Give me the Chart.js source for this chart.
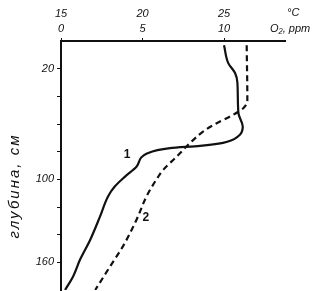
<!DOCTYPE html>
<html>
<head>
<meta charset="utf-8">
<script src="https://cdn.jsdelivr.net/npm/chart.js@4/dist/chart.umd.min.js"></script>
<style>
  html, body { margin: 0; padding: 0; background: #fff; }
  #wrap { width: 331px; height: 291px; }
</style>
</head>
<body>
<div id="wrap"><canvas id="chart"></canvas></div>
<script>
// curve 1 - temperature, °C
const tempDepth = [3, 16, 23, 30, 52, 62, 69, 73.6, 75.8, 77.4, 81.2, 90.7, 98, 105, 112, 127, 144, 158, 170, 180];
const tempValues = [25.0, 25.26, 25.67, 25.82, 25.88, 26.15, 25.86, 24.94, 23.53, 21.69, 20.3, 19.64, 18.93, 18.31, 17.9, 17.39, 16.78, 16.17, 15.75, 15.25];

// curve 2 - dissolved oxygen, ppm
const o2Depth = [3, 43, 48.6, 54.6, 59.4, 65.4, 73.8, 83.5, 93, 98, 112, 129, 148, 163, 180];
const o2Values = [11.39, 11.43, 11.18, 10.37, 9.55, 8.73, 7.91, 7.10, 6.28, 5.97, 5.26, 4.64, 3.82, 3.01, 2.1];

const tempTicks = [15, 20, 25];
const o2Ticks = [0, 5, 10];
const depthTicks = [20, 40, 60, 80, 100, 120, 140, 160];
const depthLabels = [20, 100, 160];

const curveLabels = [
  { text: '1', axis: 'xT', x: 19.05, y: 82 },
  { text: '2', axis: 'x', x: 5.2, y: 128 }
];

const font = { family: 'Liberation Sans', style: 'italic', size: 11 };

const toPoints = (xs, ys) => xs.map((v, i) => ({ x: v, y: ys[i] }));

const extras = {
  id: 'extras',
  afterDraw(chart) {
    const { ctx, chartArea, scales } = chart;
    ctx.save();
    ctx.fillStyle = '#111';
    ctx.font = 'italic 11px "Liberation Sans"';
    ctx.textBaseline = 'middle';
    ctx.textAlign = 'left';
    ctx.fillText('°C', chartArea.right + 2, 13);
    ctx.fillText('O₂, ppm', chartArea.right - 15, 29);

    ctx.font = 'bold 12px "Liberation Sans"';
    ctx.textAlign = 'center';
    curveLabels.forEach(l => {
      ctx.fillText(l.text, scales[l.axis].getPixelForValue(l.x), scales.y.getPixelForValue(l.y));
    });

    ctx.translate(15, 186);
    ctx.rotate(-Math.PI / 2);
    ctx.font = 'italic 15px "Liberation Sans"';
    ctx.letterSpacing = '2px';
    ctx.fillText('глубина, см', 0, 0);
    ctx.restore();
  }
};

new Chart(document.getElementById('chart').getContext('2d'), {
  type: 'line',
  data: {
    datasets: [
      {
        label: '1',
        data: toPoints(tempValues, tempDepth),
        xAxisID: 'xT',
        borderColor: '#111',
        borderWidth: 2.2,
        pointRadius: 0,
        cubicInterpolationMode: 'monotone',
        fill: false
      },
      {
        label: '2',
        data: toPoints(o2Values, o2Depth),
        xAxisID: 'x',
        borderColor: '#111',
        borderWidth: 2.2,
        borderDash: [6, 4],
        pointRadius: 0,
        cubicInterpolationMode: 'monotone',
        fill: false
      }
    ]
  },
  options: {
    responsive: true,
    maintainAspectRatio: false,
    animation: false,
    indexAxis: 'y',
    layout: { padding: { left: 0, right: 46, top: 0, bottom: 1 } },
    plugins: { legend: { display: false }, tooltip: { enabled: false } },
    scales: {
      x: {
        type: 'linear',
        position: 'top',
        min: 0,
        max: 13.74,
        afterBuildTicks: s => { s.ticks = o2Ticks.map(v => ({ value: v })); },
        afterFit: s => { s.height = 20; },
        ticks: { color: '#111', font, padding: 2, maxRotation: 0 },
        grid: { drawOnChartArea: false, color: '#111', tickLength: 3 },
        border: { color: '#111', width: 2 }
      },
      xT: {
        type: 'linear',
        position: 'top',
        min: 15,
        max: 28.74,
        afterBuildTicks: s => { s.ticks = tempTicks.map(v => ({ value: v })); },
        afterFit: s => { s.height = 21; },
        ticks: { color: '#111', font, padding: -8, maxRotation: 0 },
        grid: { display: false },
        border: { display: false }
      },
      y: {
        type: 'linear',
        reverse: true,
        min: 0,
        max: 180,
        afterBuildTicks: s => { s.ticks = depthTicks.map(v => ({ value: v })); },
        afterFit: s => { s.width = 61; s.paddingTop = 0; s.paddingBottom = 0; },
        ticks: {
          color: '#111',
          font,
          padding: 3,
          callback: v => depthLabels.includes(v) ? String(v) : ''
        },
        grid: { drawOnChartArea: false, color: '#111', tickLength: 4 },
        border: { color: '#111', width: 2 }
      }
    }
  },
  plugins: [extras]
});
</script>
</body>
</html>
